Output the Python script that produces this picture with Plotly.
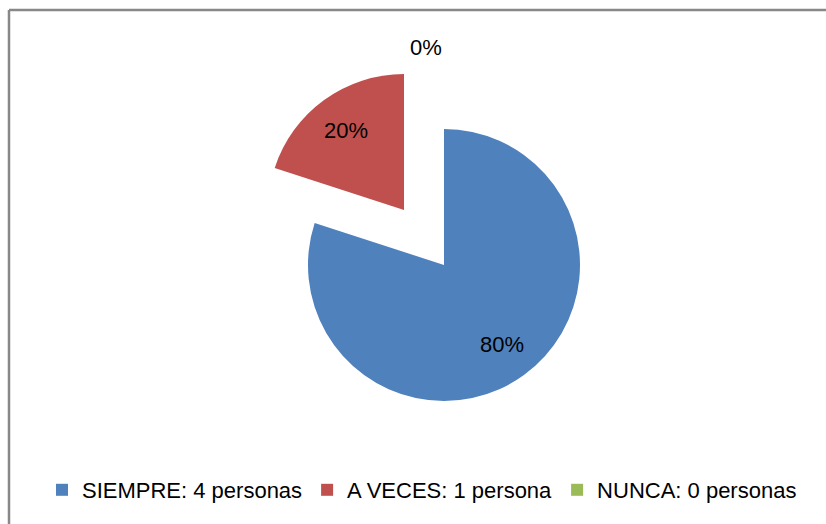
import math
import plotly.graph_objects as go

labels = ["SIEMPRE: 4 personas", "A VECES: 1 persona", "NUNCA: 0 personas"]
values = [4, 1, 0]
colors = ["#4F81BD", "#C0504D", "#9BBB59"]
pulls = [0, 0.5, 0]

FONT = "Liberation Sans"
FSIZE = 22
W, H = 826, 524
CX, CY = 444, 265          # pie centre (px)
HALF = 204                 # half of the pie domain height (px)
DOM_X = [(CX - 248) / W, (CX + 248) / W]
DOM_Y = [1 - (CY + HALF) / H, 1 - (CY - HALF) / H]
R = HALF / (1 + max(pulls))

total = sum(values)
pct_text = [f"{round(100 * v / total)}%" for v in values]

# data labels placed along each slice's bisector (clockwise from 12 o'clock)
annotations = []
start = 0.0
for v, p, t in zip(values, pulls, pct_text):
    span = 360.0 * v / total
    mid = math.radians(start + span / 2)
    if v > 0:
        d = (p + 0.72) * R
        anchor = "center"
    else:
        d = (max(pulls) + 1.1) * R
        anchor = "right"
    x = CX + d * math.sin(mid)
    y = CY - d * math.cos(mid)
    annotations.append(dict(text=t, xref="paper", yref="paper",
                            x=x / W, y=1 - y / H, xanchor=anchor, yanchor="middle",
                            showarrow=False,
                            font=dict(family=FONT, size=FSIZE, color="black")))
    start += span

fig = go.Figure(go.Pie(
    labels=labels, values=values, sort=False, direction="clockwise", rotation=0,
    marker=dict(colors=colors, line=dict(width=0)),
    pull=pulls, textinfo="none",
    domain=dict(x=DOM_X, y=DOM_Y),
    showlegend=True, hoverinfo="label+percent",
))

fig.update_layout(
    width=W, height=H,
    margin=dict(l=0, r=0, t=0, b=0),
    paper_bgcolor="white", plot_bgcolor="white",
    font=dict(family=FONT, size=FSIZE, color="black"),
    legend=dict(orientation="h", x=42 / W, y=1 - 490 / H,
                xanchor="left", yanchor="middle",
                font=dict(family=FONT, size=FSIZE), itemwidth=30,
                traceorder="normal"),
    annotations=annotations,
    shapes=[
        dict(type="line", xref="paper", yref="paper", x0=9 / W, x1=1.01,
             y0=1 - 10 / H, y1=1 - 10 / H,
             line=dict(color="#888888", width=2.5), layer="above"),
        dict(type="line", xref="paper", yref="paper", x0=9 / W, x1=9 / W,
             y0=1 - 10 / H, y1=-0.02,
             line=dict(color="#888888", width=2.5), layer="above"),
    ],
)
fig.write_html(
    "out.html",
    config={"displayModeBar": False},
    post_script="document.body.style.margin='0';document.body.style.overflow='hidden';",
)
